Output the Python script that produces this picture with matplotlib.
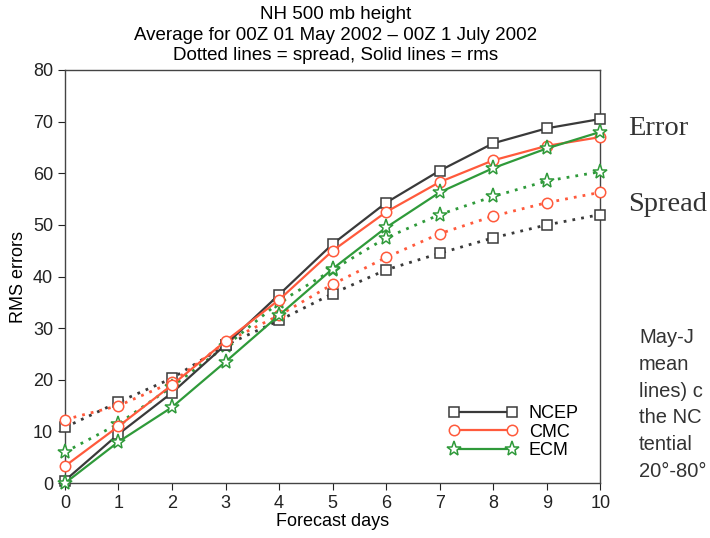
import numpy as np
import matplotlib.pyplot as plt
from matplotlib.lines import Line2D

plt.rcParams['font.family'] = ['Liberation Sans', 'DejaVu Sans']

days = list(range(11))

# rms errors (solid)
ncep_rms = [0.5, 9.5, 17.5, 26.8, 36.5, 46.3, 54.3, 60.5, 65.8, 68.7, 70.5]
cmc_rms = [3.3, 11.0, 19.0, 27.5, 35.5, 45.0, 52.5, 58.3, 62.5, 65.3, 67.0]
ecm_rms = [0.0, 8.0, 14.7, 23.5, 32.5, 41.5, 49.5, 56.3, 61.0, 64.8, 68.0]

# spread (dotted)
ncep_spread = [10.8, 15.7, 20.3, 26.7, 31.5, 36.7, 41.3, 44.5, 47.5, 50.0, 52.0]
cmc_spread = [12.3, 15.0, 19.5, 27.3, 32.5, 38.5, 43.7, 48.3, 51.7, 54.3, 56.3]
ecm_spread = [6.0, 11.5, 18.7, 26.5, 35.0, 41.3, 47.5, 52.0, 55.5, 58.5, 60.3]

models = ["NCEP", "CMC", "ECM"]
colors = ["#3a3a3a", "#ff5a3c", "#2f9a3a"]
markers = ["s", "o", "*"]
sizes = [6.5, 7.5, 11]

fig = plt.figure(figsize=(7.1, 5.38), dpi=100)
ax = fig.add_axes([0.0915, 0.102, 0.754, 0.768])

rms = [ncep_rms, cmc_rms, ecm_rms]
spread = [ncep_spread, cmc_spread, ecm_spread]
for i in range(3):
    ax.plot(days, spread[i], color=colors[i], ls=(0, (1, 2.2)), lw=2.0,
            marker=markers[i], ms=sizes[i], mfc="white", mec=colors[i], mew=1.1,
            clip_on=False, zorder=3)
    ax.plot(days, rms[i], color=colors[i], ls="-", lw=1.6,
            marker=markers[i], ms=sizes[i], mfc="white", mec=colors[i], mew=1.1,
            clip_on=False, zorder=4)

ax.set_xlim(0, 10)
ax.set_ylim(0, 80)
ax.set_xticks(days)
ax.set_yticks(range(0, 81, 10))
ax.tick_params(direction="out", length=5, labelsize=13, colors="#222222")
for s in ax.spines.values():
    s.set_color("#444444")
    s.set_linewidth(1.0)

ax.set_xlabel("Forecast days", fontsize=13, labelpad=1)
ax.set_ylabel("RMS errors", fontsize=13, labelpad=4)

handles = [Line2D([0], [0], color=colors[i], lw=1.6, marker=markers[i],
                  ms=sizes[i], mfc="white", mec=colors[i], mew=1.1)
           for i in range(3)]
ax.legend(handles, models, loc="lower right", bbox_to_anchor=(0.99, 0.018),
          frameon=False, numpoints=2, handlelength=3.85, fontsize=13,
          labelspacing=0.1, handletextpad=0.6)

fig.text(0.473, 0.988, "NH 500 mb height", ha="center", va="top", fontsize=13.5)
fig.text(0.473, 0.950, "Average for 00Z 01 May 2002 \u2013 00Z 1 July 2002",
         ha="center", va="top", fontsize=13.5)
fig.text(0.473, 0.912, "Dotted lines = spread, Solid lines = rms",
         ha="center", va="top", fontsize=13.5)

fig.text(0.885, 0.762, "Error", fontsize=20.5, family="Liberation Serif",
         color="#333333", va="center")
fig.text(0.885, 0.619, "Spread", fontsize=20.5, family="Liberation Serif",
         color="#333333", va="center")

caption = ["May-J", "mean", "lines) c", "the NC", "tential",
           "20\u00b0-80\u00b0"]
for k, line in enumerate(caption):
    fig.text(0.9, 0.372 - k * 0.0496, line, fontsize=14.5, color="#333333",
             va="center")

fig.savefig("out.png", dpi=100)
